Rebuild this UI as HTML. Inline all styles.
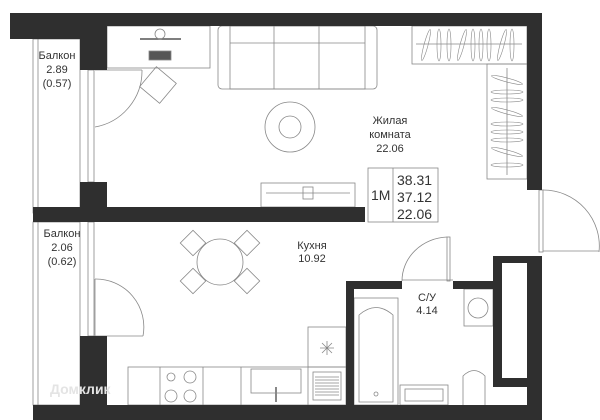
<!DOCTYPE html>
<html><head><meta charset="utf-8"><style>
html,body{margin:0;padding:0;background:#fff;width:600px;height:420px;overflow:hidden}
svg{display:block}
text{font-family:"Liberation Sans",sans-serif;fill:#333}
</style></head><body>
<svg width="600" height="420" viewBox="0 0 600 420" xmlns="http://www.w3.org/2000/svg">
<g fill="none" stroke="#888" stroke-width="0.8">
<rect x="33" y="39" width="47" height="174"/>
<line x1="38" y1="39" x2="38" y2="213"/>
<rect x="33" y="222" width="47" height="183"/>
<line x1="38" y1="222" x2="38" y2="405"/>
<rect x="88" y="70" width="6" height="112"/><rect x="88" y="222" width="6" height="114"/>
<path d="M95 127 A57 57 0 0 0 142 70"/><line x1="95" y1="70" x2="142" y2="70"/>
<path d="M95 279 A48 48 0 0 1 143 336"/><line x1="95" y1="279" x2="95" y2="336"/>
<line x1="95" y1="336" x2="143" y2="336"/>
<rect x="539" y="190" width="4" height="62"/>
<path d="M543 190 A56 56 0 0 1 599 252"/><line x1="543" y1="251" x2="599" y2="251"/>
<rect x="107" y="26" width="103" height="42"/>
<line x1="140" y1="39" x2="181" y2="39" stroke="#555" stroke-width="1.5"/>
<circle cx="160" cy="34" r="5"/>
<rect x="149" y="51" width="22" height="9" fill="#555"/>
<rect x="145" y="72" width="26" height="26" transform="rotate(40 158 85)"/>
<rect x="218" y="26" width="159" height="63" rx="4"/>
<rect x="230" y="26" width="135" height="63"/>
<line x1="230" y1="43" x2="365" y2="43"/>
<line x1="274" y1="26" x2="274" y2="89"/><line x1="319" y1="26" x2="319" y2="89"/>
<circle cx="290" cy="127" r="25"/><circle cx="290" cy="127" r="11"/>
<rect x="261" y="183" width="94" height="24"/>
<line x1="266" y1="193" x2="350" y2="193"/><rect x="303" y="187" width="10" height="12"/>
<rect x="412" y="26" width="115" height="38"/>
<line x1="416" y1="44" x2="522" y2="44"/>
<g stroke-width="0.6">
<ellipse cx="426" cy="45" rx="2" ry="16" transform="rotate(15 426 45)"/>
<ellipse cx="439" cy="45" rx="2" ry="16"/>
<ellipse cx="449" cy="45" rx="2" ry="16"/>
<ellipse cx="462" cy="45" rx="2" ry="16" transform="rotate(15 462 45)"/>
<ellipse cx="473" cy="45" rx="2" ry="16"/>
<ellipse cx="481" cy="45" rx="2" ry="16"/>
<ellipse cx="489" cy="45" rx="2" ry="16"/>
<ellipse cx="502" cy="45" rx="2" ry="16" transform="rotate(15 502 45)"/>
<ellipse cx="512" cy="45" rx="2" ry="16"/>
<ellipse cx="507" cy="80" rx="16" ry="2" transform="rotate(15 507 80)"/>
<ellipse cx="507" cy="92" rx="16" ry="2"/>
<ellipse cx="507" cy="100" rx="16" ry="2"/>
<ellipse cx="507" cy="112" rx="16" ry="2" transform="rotate(15 507 112)"/>
<ellipse cx="507" cy="124" rx="16" ry="2"/>
<ellipse cx="507" cy="132" rx="16" ry="2"/>
<ellipse cx="507" cy="140" rx="16" ry="2"/>
<ellipse cx="507" cy="152" rx="16" ry="2" transform="rotate(15 507 152)"/>
<ellipse cx="507" cy="165" rx="16" ry="2"/>
</g>
<rect x="487" y="64" width="40" height="115"/>
<line x1="507" y1="68" x2="507" y2="175"/>
<rect x="368" y="168" width="70" height="54"/><line x1="393" y1="168" x2="393" y2="222"/>
<circle cx="220" cy="262" r="23"/>
<rect x="184" y="234" width="18" height="18" transform="rotate(45 193 243)"/>
<rect x="238" y="234" width="18" height="18" transform="rotate(45 247 243)"/>
<rect x="184" y="272" width="18" height="18" transform="rotate(45 193 281)"/>
<rect x="238" y="272" width="18" height="18" transform="rotate(45 247 281)"/>
<rect x="128" y="367" width="218" height="38"/>
<line x1="160" y1="367" x2="160" y2="405"/><line x1="203" y1="367" x2="203" y2="405"/>
<line x1="241" y1="367" x2="241" y2="405"/><line x1="308" y1="367" x2="308" y2="405"/>
<circle cx="171" cy="377" r="4"/><circle cx="190" cy="377" r="6"/>
<circle cx="171" cy="396" r="6"/><circle cx="190" cy="396" r="6"/>
<rect x="251" y="369" width="50" height="24"/>
<line x1="276" y1="387" x2="276" y2="402" stroke-width="2"/>
<rect x="308" y="327" width="38" height="40"/>
<path d="M320 348 L334 348 M327 341 L327 355 M322 343 L332 353 M332 343 L322 353"/>
<rect x="313" y="372" width="28" height="28"/>
<path d="M315 377H339M315 380H339M315 383H339M315 386H339M315 389H339M315 392H339M315 395H339"/>
<rect x="354" y="298" width="44" height="107"/>
<path d="M359 402 V315 Q376 300 393 315 V402 Z"/>
<circle cx="376" cy="394" r="2"/>
<rect x="400" y="385" width="48" height="20"/><rect x="405" y="389" width="38" height="12"/>
<path d="M463 405 V376 Q474 365 485 376 V405"/>
<rect x="464" y="289" width="29" height="37"/><circle cx="478" cy="308" r="10"/>
<rect x="447" y="237" width="3" height="44"/>
<path d="M402 281 A47 44 0 0 1 447 237"/>
<line x1="402" y1="280" x2="453" y2="280"/>
</g>
<g fill="#2f2f2f">
<rect x="10" y="13" width="532" height="13"/>
<rect x="10" y="13" width="97" height="26"/>
<rect x="80" y="26" width="27" height="44"/>
<rect x="80" y="182" width="27" height="25"/>
<rect x="33" y="207" width="332" height="15"/>
<rect x="527" y="13" width="15" height="177"/>
<rect x="80" y="336" width="27" height="76"/>
<rect x="33" y="405" width="509" height="15"/>
<rect x="346" y="281" width="8" height="124"/>
<rect x="346" y="281" width="56" height="8"/>
<rect x="453" y="281" width="40" height="8"/>
<path d="M493 256 H542 V420 H527 V387 H493 Z M502 263 V378 H527 V263 Z" fill-rule="evenodd"/>
</g>
<g font-size="11" text-anchor="middle">
<text x="57" y="59">Балкон</text><text x="57" y="73">2.89</text><text x="57" y="87">(0.57)</text>
<text x="62" y="237">Балкон</text><text x="62" y="251">2.06</text><text x="62" y="265">(0.62)</text>
<text x="390" y="124">Жилая</text><text x="390" y="138">комната</text><text x="390" y="152">22.06</text>
<text x="312" y="249">Кухня</text><text x="312" y="262">10.92</text>
<text x="427" y="301">С/У</text><text x="427" y="314">4.14</text>
</g>
<g font-size="14">
<text x="371" y="200">1M</text>
<text x="397" y="185">38.31</text><text x="397" y="202">37.12</text><text x="397" y="219">22.06</text>
</g>
<text x="50" y="394" font-size="14" style="fill:#e4e4e4" font-weight="bold">Домклик</text>
</svg>
</body></html>
